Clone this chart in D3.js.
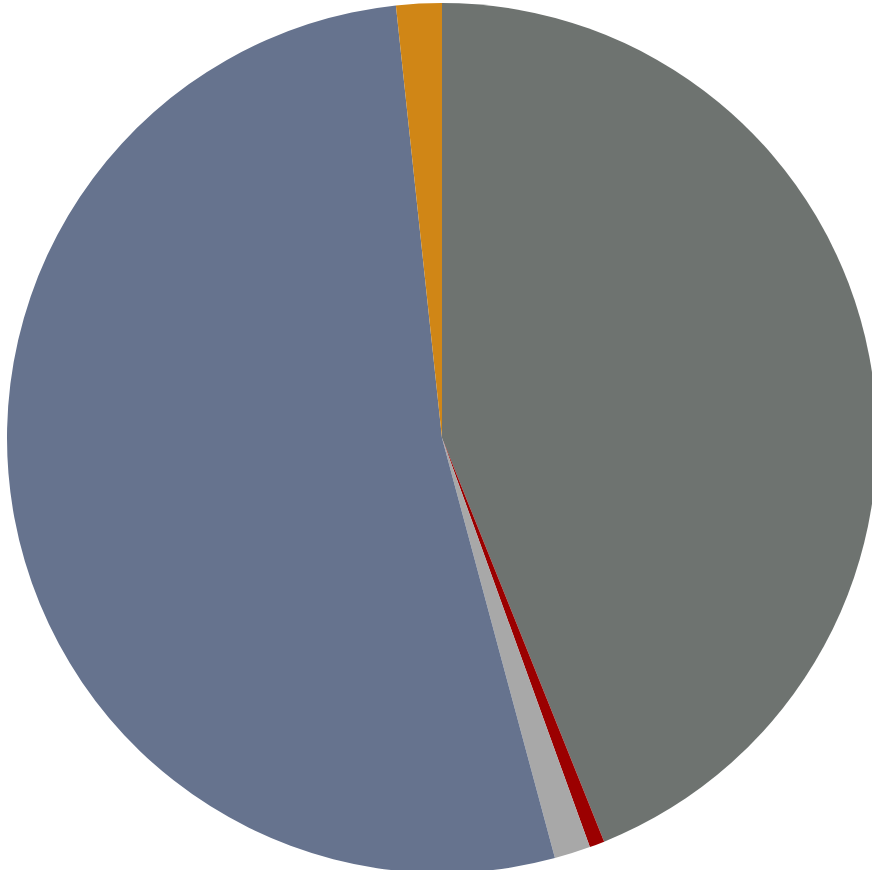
<!DOCTYPE html>
<html>
<head>
<meta charset="utf-8">
<script src="https://cdn.jsdelivr.net/npm/d3@7"></script>
<style>
  html, body { margin: 0; padding: 0; background: #fff; }
  svg { display: block; }
</style>
</head>
<body>
<div id="chart"></div>
<script>
// slice data, clockwise from 12 o'clock
const categories = ['A', 'B', 'C', 'D', 'E'];
const values = [43.92, 0.56, 1.34, 52.49, 1.69];
const colors = ['#6e7370', '#9b0000', '#a8a8a8', '#66738e', '#d08616'];

const width = 872;
const height = 870;
const cx = 442, cy = 438, radius = 435;

const svg = d3.select('#chart')
  .append('svg')
  .attr('width', width)
  .attr('height', height);

const data = categories.map((c, i) => ({ name: c, value: values[i], color: colors[i] }));

const pie = d3.pie()
  .sort(null)
  .value(d => d.value);

const arc = d3.arc()
  .innerRadius(0)
  .outerRadius(radius);

svg.append('g')
  .attr('transform', `translate(${cx},${cy})`)
  .selectAll('path')
  .data(pie(data))
  .enter()
  .append('path')
  .attr('d', arc)
  .attr('fill', d => d.data.color);
</script>
</body>
</html>
